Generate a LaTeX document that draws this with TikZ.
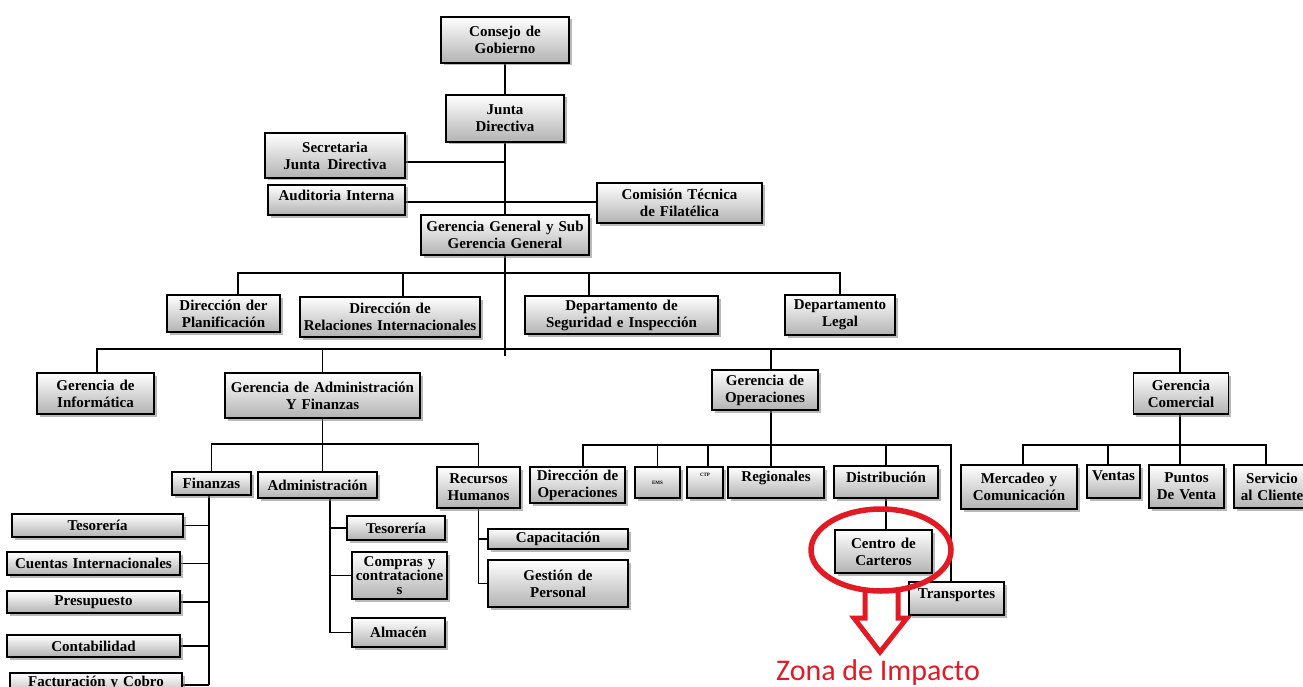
\documentclass[tikz,border=0pt]{standalone}
\usepackage{fontspec}
\setmainfont{Liberation Serif}
\newfontfamily\zonafont{Carlito}
\usetikzlibrary{shadows,backgrounds}
\definecolor{impact}{RGB}{226,26,36}
% shift a one-line label up inside its box without changing its size
\newcommand{\lift}[2]{\raisebox{#1}[\height][\depth]{#2}}

\begin{document}
\begin{tikzpicture}[x=1pt,y=-1pt,
  orgbox/.style={draw=black, line width=1.5pt, top color=white, bottom color=black!30,
    drop shadow={shadow xshift=2.5pt, shadow yshift=-2.5pt, opacity=0.55},
    inner sep=0pt, align=center, font=\fontsize{15}{17}\selectfont\bfseries},
  sz/.style 2 args={text width=#1pt, minimum height=#2pt},
  conn/.style={draw=black, line width=1.4pt},
  tinytext/.style={font=\fontsize{5}{6}\selectfont\bfseries}]

\useasboundingbox (0,0) rectangle (1303,687);
\clip (0,0) rectangle (1303,687);

% --- top of the hierarchy
\node[orgbox, sz={128}{46}] (consejo) at (505,40) {Consejo de\\Gobierno};
\node[orgbox, sz={118}{47}] (junta) at (505,118.5) {Junta\\Directiva};
\node[orgbox, sz={140}{45}] (secre) at (335,155.5) {Secretaria\\Junta\enspace Directiva};
\node[orgbox, sz={137}{30}] (audit) at (336.5,200) {\lift{5pt}{Auditoria Interna}};
\node[orgbox, sz={165}{40}] (comision) at (679.5,203) {Comisión Técnica\\de Filatélica};
\node[orgbox, sz={168}{40}] (gg) at (505,235) {Gerencia General y Sub\\Gerencia General};

% --- directorates
\node[orgbox, sz={113}{37}] (plan) at (223.5,313.5) {Dirección der\\Planificación};
\node[orgbox, sz={180}{40}] (rel) at (390,317) {Dirección de\\Relaciones Internacionales};
\node[orgbox, sz={193}{38}] (seg) at (621.5,315) {Departamento de\\Seguridad e Inspección};
\node[orgbox, sz={110}{40}] (legal) at (840,315) {Departamento\\Legal};

% --- managements
\node[orgbox, sz={117}{41}] (info) at (95.5,393.5) {Gerencia de\\Informática};
\node[orgbox, sz={195}{45}] (admfin) at (322.5,395.5) {Gerencia de Administración\\Y Finanzas};
\node[orgbox, sz={106}{40}] (ops) at (765,390) {Gerencia de\\Operaciones};
\node[orgbox, sz={95}{41}] (com) at (1181,393.5) {Gerencia\\Comercial};

% --- administration and finance
\node[orgbox, sz={79}{23}] (finanzas) at (211.5,483.5) {Finanzas};
\node[orgbox, sz={119}{26}] (adm) at (317.5,485) {Administración};
\node[orgbox, sz={83}{41}] (rh) at (478.5,487.5) {Recursos\\Humanos};
\node[orgbox, sz={140}{20}] (capa) at (558,539) {Capacitación};
\node[orgbox, sz={140}{47}] (gestion) at (558,583.5) {Gestión de\\Personal};
\node[orgbox, sz={98}{24}] (teso2) at (396,528) {Tesorería};
\node[orgbox, sz={95}{47}, font=\fontsize{15}{13.5}\selectfont\bfseries] (compras) at (399.5,575.5) {Compras y\\contratacione\\s};
\node[orgbox, sz={93}{29}] (almacen) at (398.5,632.5) {Almacén};
\node[orgbox, sz={171}{23}] (teso1) at (97.5,525.5) {Tesorería};
\node[orgbox, sz={173}{23}] (cuentas) at (93.5,563.5) {Cuentas Internacionales};
\node[orgbox, sz={173}{22}] (presu) at (93.5,602) {Presupuesto};
\node[orgbox, sz={173}{22}] (conta) at (93.5,646) {Contabilidad};
\node[orgbox, sz={172}{24}] (factu) at (96,685) {\lift{2pt}{Facturación y Cobro}};

% --- operations
\node[orgbox, sz={95}{36}] (dirops) at (577.5,485) {Dirección de\\Operaciones};
\node[orgbox, tinytext, sz={45}{31}] (ems) at (657.5,482.5) {EMS};
\node[orgbox, tinytext, sz={36}{31}] (ctp) at (705,482.5) {\lift{8pt}{CTP}};
\node[orgbox, sz={96}{31}] (reg) at (776,482.5) {\lift{5pt}{Regionales}};
\node[orgbox, sz={104}{32}] (dist) at (886,482) {\lift{5pt}{Distribución}};
\node[orgbox, sz={97}{43}] (centro) at (883.5,551.5) {Centro de\\Carteros};
\node[orgbox, sz={95}{33}] (transp) at (956.5,598.5) {\lift{3pt}{Transportes}};

% --- commercial
\node[orgbox, sz={116}{44}] (merc) at (1019,487) {Mercadeo y\\Comunicación};
\node[orgbox, sz={53}{33}] (ventas) at (1113.5,481.5) {\lift{6pt}{Ventas}};
\node[orgbox, sz={75}{43}] (puntos) at (1186.5,486.5) {Puntos\\De Venta};
\node[orgbox, sz={76}{43}] (servicio) at (1272,486.5) {Servicio\\al Cliente};

% --- connectors, behind the boxes
\begin{scope}[on background layer]
  \draw[conn] (consejo.south) -- (junta.north);
  \draw[conn] (junta.south) -- (gg.north);
  \coordinate (spineend) at (505,356);
  \draw[conn] (gg.south) -- (spineend);
  \draw[conn] ([yshift=-6.5pt]secre.east) -- ([yshift=-6.5pt]secre.east -| junta.south);
  \draw[conn] ([yshift=-2pt]audit.east) -- ([yshift=-2pt]audit.east -| comision.west);

  \coordinate (b2) at (505,273);
  \draw[conn] ([xshift=14.5pt]plan.north) |- (b2) -| (legal.north);
  \draw[conn] ([xshift=13pt]rel.north) -- ([xshift=13pt]rel.north |- b2);
  \draw[conn] ([xshift=-32.5pt]seg.north) -- ([xshift=-32.5pt]seg.north |- b2);

  \coordinate (b3) at (505,349);
  \draw[conn] ([xshift=1.5pt]info.north) |- (b3) -| ([xshift=-1pt]com.north);
  \draw[conn] (admfin.north) -- (admfin.north |- b3);
  \draw[conn] ([xshift=6pt]ops.north) -- ([xshift=6pt]ops.north |- b3);

  \coordinate (b4a) at (322,444);
  \draw[conn] (admfin.south) -- (admfin.south |- adm.north);
  \draw[conn] (finanzas.north) |- (b4a) -| (rh.north);
  \draw[conn] ([xshift=-2.5pt]finanzas.south) -- ([xshift=-2.5pt]finanzas.south |- factu.east);
  \foreach \n in {teso1,cuentas,presu,conta,factu}
    \draw[conn] (\n.east) -- ([xshift=-2.5pt]finanzas.south |- \n.east);
  \draw[conn] ([xshift=12.5pt]adm.south) -- ([xshift=12.5pt]adm.south |- almacen.west);
  \foreach \n in {teso2,compras,almacen}
    \draw[conn] (\n.west) -- ([xshift=12.5pt]adm.south |- \n.west);
  \draw[conn] (rh.south) -- (rh.south |- gestion.west);
  \foreach \n in {capa,gestion}
    \draw[conn] (\n.west) -- (rh.south |- \n.west);

  \coordinate (b4o) at (772,445);
  \draw[conn] ([xshift=6pt]ops.south) -- ([xshift=6pt]ops.south |- reg.north);
  \draw[conn] ([xshift=5.5pt]dirops.north) |- (b4o) -| ([xshift=-5.5pt]transp.north);
  \draw[conn] (ems.north) -- (ems.north |- b4o);
  \draw[conn] ([xshift=3pt]ctp.north) -- ([xshift=3pt]ctp.north |- b4o);
  \draw[conn] (dist.north) -- (dist.north |- b4o);
  \draw[conn] (dist.south) -- (dist.south |- centro.north);

  \coordinate (b4c) at (1180,445);
  \draw[conn] ([xshift=-1pt]com.south) -- ([xshift=-1pt]com.south |- puntos.north);
  \draw[conn] ([xshift=4pt]merc.north) |- (b4c) -| ([xshift=-6pt]servicio.north);
  \draw[conn] ([xshift=-5.5pt]ventas.north) -- ([xshift=-5.5pt]ventas.north |- b4c);
\end{scope}

% --- highlighted impact zone
\coordinate (ring) at (881,550);
\draw[impact, line width=5.5pt] (ring) ellipse [x radius=70pt, y radius=41pt];
\draw[impact, line width=5pt, line join=miter]
  (865,588) -- (865,618) -- (854,618) -- (880,652) -- (907,618) -- (898,618) -- (898,588);
\node[text=impact, font=\zonafont\fontsize{30}{32}\selectfont, anchor=base, inner sep=0pt]
  (zona) at (878,680) {Zona de Impacto};
\end{tikzpicture}
\end{document}
